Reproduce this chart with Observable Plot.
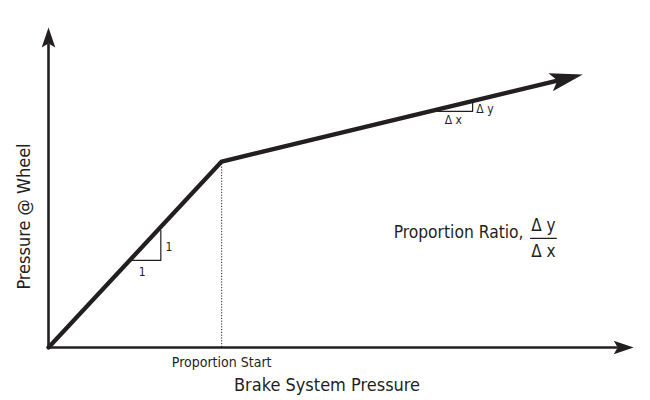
<!DOCTYPE html>
<html>
<head>
<meta charset="utf-8">
<script src="https://cdn.jsdelivr.net/npm/d3@7"></script>
<script src="https://cdn.jsdelivr.net/npm/@observablehq/plot@0.6"></script>
<style>
  html, body { margin: 0; padding: 0; background: #fff; }
</style>
</head>
<body>
<div id="chart"></div>
<script>
// ---- data (abstract units: x = brake system pressure, y = pressure at wheel) ----
const domainX = [0, 100];
const domainY = [0, 100];
// response curve: origin -> proportion start (knee) -> end of arrow shaft
const curveX = [0, 29.6, 87.0];
const curveY = [0, 58.1, 83.4];
// axes (shaft ends; arrow heads extend beyond)
const axisX1 = [0, 0];
const axisY1 = [0, 0];
const axisX2 = [97.3, 0];
const axisY2 = [0, 95.0];
// proportion start marker
const kneeX = [29.6];
const kneeY = [58.1];
// 1:1 slope triangle
const unitTriX = [14.0, 19.2, 19.2];
const unitTriY = [27.2, 27.2, 36.6];
const unitLabels = ["1", "1"];
const unitLabelX = [16.0, 20.6];
const unitLabelY = [23.5, 31.4];
// Δy/Δx triangle on second segment
const deltaTriX = [66.5, 72.5, 72.5];
const deltaTriY = [73.8, 73.8, 76.6];
const deltaLabels = ["Δ x", "Δ y"];
const deltaLabelX = [69.2, 74.6];
const deltaLabelY = [70.9, 74.6];
// ratio annotation
const ratioText = ["Proportion Ratio,"];
const ratioX = [59.0];
const ratioY = [35.9];
const fracLabels = ["Δ y", "Δ x"];
const fracX = [84.6, 84.6];
const fracY = [38.1, 30.0];
const fracBarX = [82.4, 86.8];
const fracBarY = [34.1, 34.1];
// axis titles
const xTitle = "Brake System Pressure";
const yTitle = "Pressure @ Wheel";
const startLabel = "Proportion Start";

const ink = "#231f20";
const font = "'Liberation Sans Narrow', 'DejaVu Sans Condensed', 'Roboto Condensed', sans-serif";

const idx = a => a.map((_, i) => i);

const chart = Plot.plot({
  width: 650,
  height: 400,
  marginLeft: 48,
  marginRight: 17,
  marginTop: 27,
  marginBottom: 53,
  style: { fontFamily: font, background: "#fff", overflow: "visible" },
  x: { domain: domainX, axis: null },
  y: { domain: domainY, axis: null },
  marks: [
    // dotted drop line at proportion start
    Plot.ruleX(kneeX, { x: d => d, y1: 0, y2: (d, i) => kneeY[i], stroke: ink, strokeWidth: 1, strokeDasharray: "1.2,1.6" }),
    // axes
    Plot.link(idx(axisX1), {
      x1: i => axisX1[i], y1: i => axisY1[i], x2: i => axisX2[i], y2: i => axisY2[i],
      stroke: ink, strokeWidth: 2.6, ariaDescription: "axes"
    }),
    // slope triangles
    Plot.line(idx(unitTriX), { x: i => unitTriX[i], y: i => unitTriY[i], stroke: ink, strokeWidth: 1.2 }),
    Plot.line(idx(deltaTriX), { x: i => deltaTriX[i], y: i => deltaTriY[i], stroke: ink, strokeWidth: 1.2 }),
    // main curve
    Plot.line(idx(curveX), {
      x: i => curveX[i], y: i => curveY[i], stroke: ink, strokeWidth: 4.3,
      strokeLinejoin: "miter", ariaDescription: "curve"
    }),
    // fraction bar
    Plot.line(idx(fracBarX), { x: i => fracBarX[i], y: i => fracBarY[i], stroke: ink, strokeWidth: 1.2 }),
    // labels
    Plot.text(unitLabels, { x: (d, i) => unitLabelX[i], y: (d, i) => unitLabelY[i], text: d => d, fontSize: 12, fill: ink, fontFamily: font }),
    Plot.text(deltaLabels, { x: (d, i) => deltaLabelX[i], y: (d, i) => deltaLabelY[i], text: d => d, fontSize: 12, fill: ink, fontFamily: font }),
    Plot.text(ratioText, { x: (d, i) => ratioX[i], y: (d, i) => ratioY[i], text: d => d, textAnchor: "start", fontSize: 17.3, fill: ink, fontFamily: font }),
    Plot.text(fracLabels, { x: (d, i) => fracX[i], y: (d, i) => fracY[i], text: d => d, fontSize: 17, fill: ink, fontFamily: font }),
    Plot.text([startLabel], { x: kneeX[0], y: 0, dy: 15, text: d => d, fontSize: 14, fill: ink, fontFamily: font }),
    Plot.text([xTitle], { frameAnchor: "bottom", textAnchor: "middle", lineAnchor: "middle", dx: -14, dy: 38, text: d => d, fontSize: 18, fill: ink, fontFamily: font }),
    Plot.text([yTitle], { frameAnchor: "left", textAnchor: "middle", lineAnchor: "middle", dx: -24, dy: 29, rotate: -90, text: d => d, fontSize: 18, fill: ink, fontFamily: font })
  ]
});

// filled, barbed arrow heads (notch sits at the end of each shaft)
const NS = "http://www.w3.org/2000/svg";
function addHead(svg, id, len, half, ext) {
  let defs = svg.querySelector("defs");
  if (!defs) { defs = document.createElementNS(NS, "defs"); svg.insertBefore(defs, svg.firstChild); }
  const m = document.createElementNS(NS, "marker");
  m.setAttribute("id", id);
  m.setAttribute("markerUnits", "userSpaceOnUse");
  m.setAttribute("orient", "auto");
  m.setAttribute("refX", "0");
  m.setAttribute("refY", "0");
  m.setAttribute("markerWidth", "80");
  m.setAttribute("markerHeight", "80");
  m.setAttribute("viewBox", "-40 -40 80 80");
  m.setAttribute("overflow", "visible");
  const p = document.createElementNS(NS, "path");
  const back = ext - len;
  p.setAttribute("d", `M${ext},0 L${back},${-half} L0,0 L${back},${half} Z`);
  p.setAttribute("fill", ink);
  p.setAttribute("stroke", "none");
  m.appendChild(p);
  defs.appendChild(m);
}
addHead(chart, "axisHead", 20, 6.8, 16);
addHead(chart, "curveHead", 33, 9.3, 26);
chart.querySelectorAll('g[aria-description="axes"] path, g[aria-description="axes"] line').forEach(el => el.setAttribute("marker-end", "url(#axisHead)"));
chart.querySelectorAll('g[aria-description="curve"] path').forEach(el => el.setAttribute("marker-end", "url(#curveHead)"));

document.getElementById("chart").appendChild(chart);
</script>
</body>
</html>
